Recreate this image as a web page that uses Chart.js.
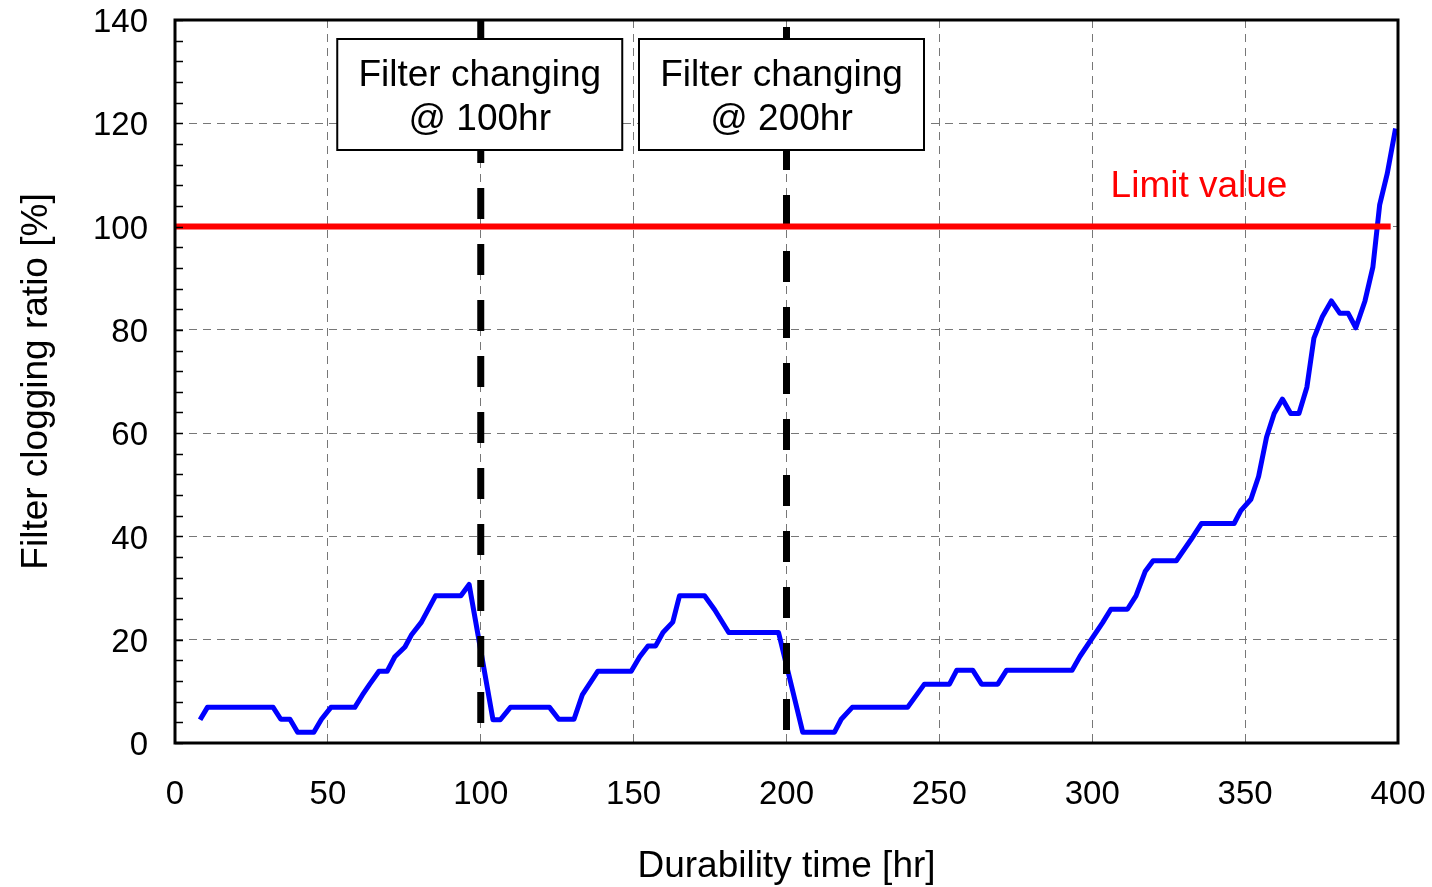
<!DOCTYPE html>
<html>
<head>
<meta charset="utf-8">
<script src="https://cdn.jsdelivr.net/npm/chart.js@4.4.1/dist/chart.umd.min.js"></script>
<style>
  html, body { margin: 0; padding: 0; background: #fff; }
  #wrap { width: 1432px; height: 887px; }
</style>
</head>
<body>
<div id="wrap"><canvas id="chart"></canvas></div>
<script>
// filter clogging readings
const hours = [8.2, 10.6, 32.1, 34.6, 37.6, 40.1, 45.4, 47.9, 51.0, 58.8,
  61.3, 63.7, 66.7, 69.4, 71.9, 75.2, 77.3, 80.6, 85.2, 93.5,
  96.2, 104.0, 106.4, 109.7, 122.5, 125.5, 130.5, 133.2, 138.3, 149.2,
  152.0, 154.7, 157.2, 159.6, 162.8, 165.0, 173.2, 176.5, 181.1, 197.4,
  205.3, 215.7, 217.9, 221.5, 239.6, 245.1, 253.3, 255.7, 260.9, 263.8,
  269.1, 272.0, 293.4, 296.0, 303.4, 306.1, 311.5, 314.3, 317.3, 319.9,
  327.5, 332.2, 335.7, 346.4, 348.6, 351.9, 354.4, 357.0, 359.5, 362.2,
  364.9, 367.6, 370.2, 372.5, 375.3, 378.2, 381.0, 383.7, 386.2, 389.2,
  391.8, 394.0, 396.5, 399.2];
const clogging = [4.5, 6.9, 6.9, 4.6, 4.6, 2.1, 2.1, 4.6, 6.9, 6.9,
  9.3, 11.4, 13.9, 13.9, 16.7, 18.6, 20.9, 23.4, 28.5, 28.5,
  30.7, 4.5, 4.5, 6.9, 6.9, 4.6, 4.6, 9.3, 13.9, 13.9,
  16.7, 18.8, 18.8, 21.4, 23.4, 28.5, 28.5, 25.8, 21.4, 21.4,
  2.1, 2.1, 4.6, 6.9, 6.9, 11.4, 11.4, 14.1, 14.1, 11.4,
  11.4, 14.1, 14.1, 16.8, 23.3, 25.9, 25.9, 28.5, 33.2, 35.3,
  35.3, 39.3, 42.5, 42.5, 45.0, 47.2, 51.6, 59.2, 63.8, 66.6,
  63.8, 63.8, 68.9, 78.4, 82.6, 85.6, 83.2, 83.2, 80.4, 85.6,
  92.2, 104.2, 110.3, 119.0];

const limitValue = 100;
const limitSpan = [0, 397.6];
const limitLabel = "Limit value";
const changeTimes = [100, 200];
const changeLabels = [["Filter changing", "@ 100hr"], ["Filter changing", "@ 200hr"]];

const xRange = [0, 400], xStep = 50;
const yRange = [0, 140], yStep = 20, yMinorStep = 4;

const FONT = "'Liberation Sans', Arial, sans-serif";

const datasets = [{
  label: "Filter clogging ratio",
  data: hours.map((h, i) => ({ x: h, y: clogging[i] })),
  borderColor: "#0000ff",
  borderWidth: 5,
  borderJoinStyle: "round",
  pointRadius: 0,
  order: 2
}, {
  label: limitLabel,
  data: limitSpan.map(h => ({ x: h, y: limitValue })),
  borderColor: "#ff0000",
  borderWidth: 6,
  pointRadius: 0,
  order: 0
}];
changeTimes.forEach((t, i) => {
  datasets.push({
    label: "change " + t,
    data: [{ x: t, y: yRange[1] }, { x: t, y: yRange[0] }],
    borderColor: "#000",
    borderWidth: 7,
    borderDash: [31, 25],
    borderDashOffset: i === 0 ? 0 : 49,
    pointRadius: 0,
    order: 1
  });
});

// frame, minor ticks, annotation boxes and limit text
const decor = {
  id: "decor",
  afterDatasetsDraw(chart) {
    const { ctx, chartArea: a, scales: { x, y } } = chart;
    ctx.save();

    // minor ticks on the left axis
    ctx.strokeStyle = "#000";
    ctx.lineWidth = 1.5;
    for (let v = yRange[0]; v <= yRange[1]; v += yMinorStep) {
      const py = Math.round(y.getPixelForValue(v)) + 0.5;
      ctx.beginPath();
      ctx.moveTo(a.left, py);
      ctx.lineTo(a.left + 8, py);
      ctx.stroke();
    }

    // boxes over the change lines
    const shift = [-1, -5];
    changeTimes.forEach((t, i) => {
      const cx = x.getPixelForValue(t) + shift[i];
      const w = 285, h = 111, top = 39;
      ctx.fillStyle = "#fff";
      ctx.fillRect(cx - w / 2, top, w, h);
      ctx.lineWidth = 2;
      ctx.strokeStyle = "#000";
      ctx.strokeRect(cx - w / 2, top, w, h);
      ctx.fillStyle = "#000";
      ctx.font = "37px " + FONT;
      ctx.textAlign = "center";
      ctx.textBaseline = "alphabetic";
      ctx.fillText(changeLabels[i][0], cx, top + 47);
      ctx.fillText(changeLabels[i][1], cx, top + 91);
    });

    // limit label
    ctx.fillStyle = "#ff0000";
    ctx.font = "37px " + FONT;
    ctx.textAlign = "left";
    ctx.fillText(limitLabel, x.getPixelForValue(306), y.getPixelForValue(limitValue) - 30);

    // plot frame
    ctx.strokeStyle = "#000";
    ctx.lineWidth = 3;
    ctx.strokeRect(a.left, a.top, a.right - a.left, a.bottom - a.top);
    ctx.restore();
  }
};

new Chart(document.getElementById("chart"), {
  type: "line",
  data: { datasets: datasets },
  options: {
    responsive: true,
    maintainAspectRatio: false,
    animation: false,
    layout: { padding: { top: 20, right: 34, left: 0, bottom: 0 } },
    plugins: { legend: { display: false }, tooltip: { enabled: false } },
    elements: { line: { tension: 0, fill: false } },
    scales: {
      x: {
        type: "linear",
        min: xRange[0],
        max: xRange[1],
        afterFit: s => { s.height = 144; s.paddingLeft = 0; s.paddingRight = 0; },
        ticks: { stepSize: xStep, padding: 32, color: "#000", font: { family: FONT, size: 33 } },
        grid: { color: "#777", lineWidth: 1, drawTicks: false },
        border: { display: false, dash: [8, 6] },
        title: {
          display: true,
          text: "Durability time [hr]",
          color: "#000",
          font: { family: FONT, size: 37 },
          padding: { top: 0, bottom: -2 }
        }
      },
      y: {
        type: "linear",
        min: yRange[0],
        max: yRange[1],
        afterFit: s => { s.width = 175; s.paddingTop = 0; s.paddingBottom = 0; },
        ticks: { stepSize: yStep, padding: 27, labelOffset: 3, color: "#000", font: { family: FONT, size: 33 } },
        grid: { color: "#777", lineWidth: 1, drawTicks: false },
        border: { display: false, dash: [8, 6] },
        title: {
          display: true,
          text: "Filter clogging ratio [%]",
          color: "#000",
          font: { family: FONT, size: 37 },
          padding: { top: 15, bottom: 0 }
        }
      }
    }
  },
  plugins: [decor]
});
</script>
</body>
</html>
